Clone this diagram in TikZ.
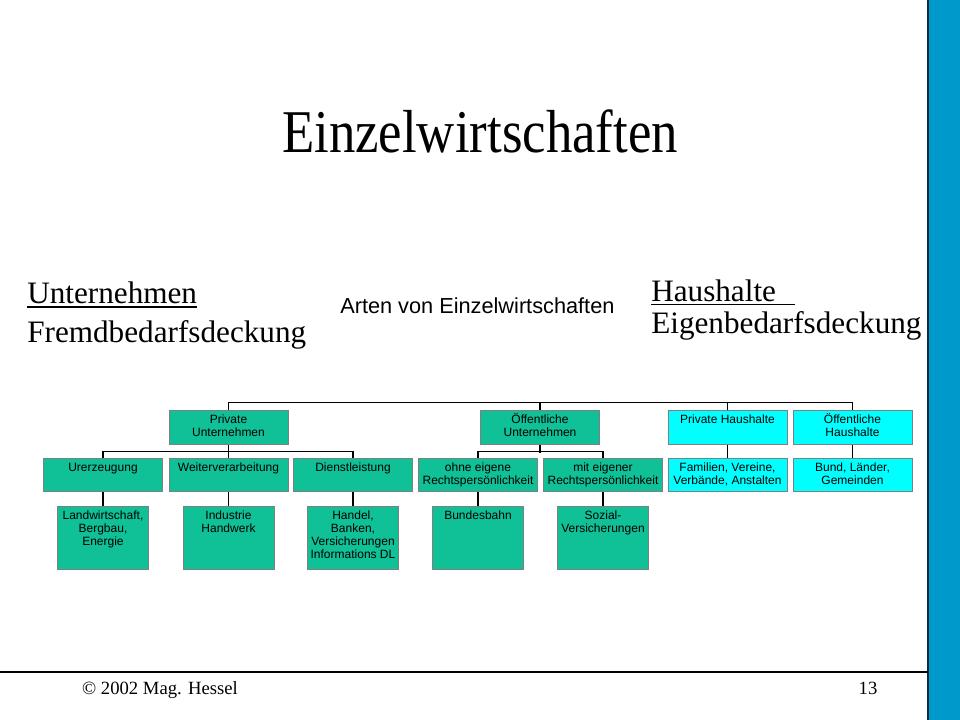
\documentclass[tikz,border=0pt]{standalone}
\usepackage{fontspec}
\setmainfont{Liberation Serif}
\newfontfamily\arialf{Liberation Sans}
\definecolor{boxgreen}{HTML}{10C096}
\definecolor{boxcyan}{HTML}{00FFFF}
\definecolor{boxline}{HTML}{7F7F7F}
\definecolor{barblue}{HTML}{0099CC}
\definecolor{bardark}{HTML}{0A2A40}
\newcommand{\wtxt}[1]{\parbox[c][25pt][t]{89.25pt}{\centering\arialf\fontsize{9}{9.75}\selectfont\rule{0pt}{9.8pt}#1}}
\newcommand{\ttxt}[1]{\parbox[c][47.25pt][t]{68.25pt}{\centering\arialf\fontsize{9}{9.75}\selectfont\rule{0pt}{10.2pt}#1}}
\tikzset{
  gbox/.style={draw=boxline, fill=boxgreen, line width=0.75pt, inner sep=0pt},
  cbox/.style={draw=boxline, fill=boxcyan, line width=0.75pt, inner sep=0pt},
  conn/.style={draw=black, line width=0.8pt},
  serifbig/.style={inner sep=0pt, font=\fontsize{23.4}{28}\selectfont},
  ul/.style={draw=black, line width=1.1pt},
}
\begin{document}
\begin{tikzpicture}[x=0.75pt, y=-0.75pt]
\useasboundingbox (0,0) rectangle (960,720);
\fill[white] (0,0) rectangle (960,720);
% side bar and footer line
\fill[barblue] (928,0) rectangle (960,720);
\draw[bardark, line width=1pt] (928,0) -- (928,720);
\draw[black, line width=1pt] (0,672) -- (928,672);

% title
\node[anchor=base, inner sep=0pt, font=\fontsize{39.6}{44}\selectfont] (title) at (480,152.5) {\scalebox{1}[1.15]{Einzelwirtschaften}};

% side texts
\node[serifbig, anchor=base west] (unt) at (27,304) {Unternehmen};
\node[serifbig, anchor=base west] (fremd) at (27,342) {Fremdbedarfsdeckung};
\draw[ul] ([yshift=-2.3pt]unt.base west) -- ([yshift=-2.3pt]unt.base east);
\node[serifbig, anchor=base west] (haus) at (651,301.5) {Haushalte};
\node[serifbig, anchor=base west] (eigen) at (651,334) {Eigenbedarfsdeckung};
\draw[ul] ([yshift=-2.3pt]haus.base west) -- ([yshift=-2.3pt,xshift=14pt]haus.base east);

% root label
\node[anchor=base west, inner sep=0pt, font=\arialf\fontsize{16.3}{19}\selectfont] (root) at (340,314) {Arten von Einzelwirtschaften};

% level 1
\node[gbox] (pu) at (228.5,427.5) {\wtxt{Private\\Unternehmen}};
\node[gbox] (ou) at (540,427.5) {\wtxt{Öffentliche\\Unternehmen}};
\node[cbox] (ph) at (727.5,427.5) {\wtxt{Private Haushalte}};
\node[cbox] (oh) at (852.5,427.5) {\wtxt{Öffentliche\\Haushalte}};

% level 2
\node[gbox] (ur) at (103,475) {\wtxt{Urerzeugung}};
\node[gbox] (wv) at (228.5,475) {\wtxt{Weiterverarbeitung}};
\node[gbox] (dl) at (353,475) {\wtxt{Dienstleistung}};
\node[gbox] (oe) at (478,475) {\wtxt{ohne eigene\\Rechtspersönlichkeit}};
\node[gbox] (me) at (603,475) {\wtxt{mit eigener\\Rechtspersönlichkeit}};
\node[cbox] (fam) at (727.5,475) {\wtxt{Familien, Vereine,\\Verbände, Anstalten}};
\node[cbox] (bund) at (852.5,475) {\wtxt{Bund, Länder,\\Gemeinden}};

% level 3
\node[gbox] (lw) at (103,537.5) {\ttxt{Landwirtschaft,\\Bergbau,\\Energie}};
\node[gbox] (ind) at (228.5,537.5) {\ttxt{Industrie\\Handwerk}};
\node[gbox] (han) at (353,537.5) {\ttxt{Handel,\\Banken,\\Versicherungen\\Informations DL}};
\node[gbox] (bb) at (478,537.5) {\ttxt{Bundesbahn}};
\node[gbox] (sv) at (603,537.5) {\ttxt{Sozial-\\Versicherungen}};

% connectors
\draw[conn] (pu.north) -- ++(0,-8) -| (oh.north);
\draw[conn] (ou.north) -- ++(0,-8);
\draw[conn] (ph.north) -- ++(0,-8);
\draw[conn] (pu.south) -- ++(0,8);
\draw[conn] (ur.north) -- ++(0,-6) -| (dl.north);
\draw[conn] (wv.north) -- ++(0,-6);
\draw[conn] (ou.south) -- ++(0,8);
\draw[conn] (oe.north) -- ++(0,-6) -| (me.north);
\draw[conn] (ph.south) -- (fam.north);
\draw[conn] (oh.south) -- (bund.north);
\draw[conn] (ur.south) -- (lw.north);
\draw[conn] (wv.south) -- (ind.north);
\draw[conn] (dl.south) -- (han.north);
\draw[conn] (oe.south) -- (bb.north);
\draw[conn] (me.south) -- (sv.north);

% footer
\node[anchor=base, inner sep=0pt, font=\fontsize{14}{16}\selectfont] (copy) at (160,694) {© 2002 Mag. Hessel};
\node[anchor=base, inner sep=0pt, font=\fontsize{14}{16}\selectfont] (page) at (868,694) {13};
\end{tikzpicture}
\end{document}
